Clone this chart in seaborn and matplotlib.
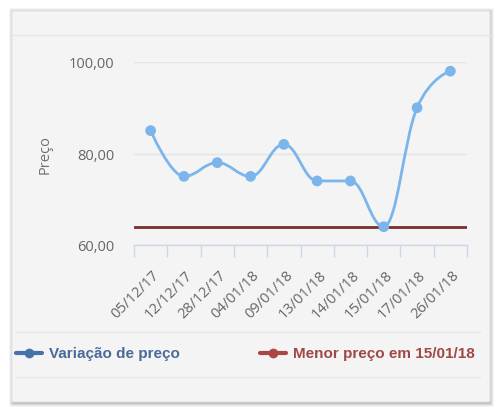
import numpy as np
import matplotlib
matplotlib.use("Agg")
import matplotlib.pyplot as plt
import seaborn as sns
from matplotlib.path import Path
from matplotlib.patches import PathPatch, FancyBboxPatch
from matplotlib.lines import Line2D
import matplotlib.transforms as mtransforms

# ---- data ----
dates = ["05/12/17", "12/12/17", "28/12/17", "04/01/18", "09/01/18",
         "13/01/18", "14/01/18", "15/01/18", "17/01/18", "26/01/18"]
prices = [85, 75, 78, 75, 82, 74, 74, 64, 90, 98]
min_price = 64
y_ticks = [60, 80, 100]
series_label = "Variação de preço"
min_label = "Menor preço em 15/01/18"
y_label = "Preço"

sns.set_theme(style="white")
plt.rcParams['font.family'] = ['Open Sans', 'DejaVu Sans']

W, H = 500, 414
fig = plt.figure(figsize=(W / 100, H / 100), dpi=100)
fig.patch.set_facecolor("white")

def fx(px):
    return px / W

def fy(py):
    return (H - py) / H

# card shadow + card
for k, a in [(5, 0.04), (4, 0.05), (3, 0.07), (2, 0.09), (1, 0.12)]:
    sh = FancyBboxPatch((fx(12 - k + 2), fy(403 + k)), fx(478 + 2 * k - 3), (391 + 2 * k - 2) / H,
                        boxstyle="round,pad=0,rounding_size=0.004", transform=fig.transFigure,
                        facecolor="black", edgecolor="none", alpha=a, zorder=0)
    fig.patches.append(sh)
card = FancyBboxPatch((fx(12), fy(403)), fx(478), 391 / H,
                      boxstyle="round,pad=0,rounding_size=0.004", transform=fig.transFigure,
                      facecolor="#f4f4f4", edgecolor="#e4e4e4", lw=0.8, zorder=1)
fig.patches.append(card)
# separators
for yy in (36, 333, 378):
    x0 = 12 if yy == 36 else 16
    x1 = 490 if yy == 36 else 480
    fig.lines.append(Line2D([fx(x0), fx(x1)], [fy(yy), fy(yy)], transform=fig.transFigure,
                            color="#e6e6e6", lw=1, zorder=2))

ax = fig.add_axes([fx(134), fy(246), fx(467 - 134), (246 - 63) / H])
ax.set_facecolor("none")
ax.set_zorder(3)

xs = np.arange(len(prices), dtype=float)
ys = np.array(prices, dtype=float)

# Highcharts-like spline control points
n = len(xs)
lc = [None] * n
rc = [None] * n
sm, den = 1.5, 2.5
for i in range(1, n - 1):
    x, y = xs[i], ys[i]
    px_, py_ = xs[i - 1], ys[i - 1]
    nx_, ny_ = xs[i + 1], ys[i + 1]
    lcx = (sm * x + px_) / den
    lcy = (sm * y + py_) / den
    rcx = (sm * x + nx_) / den
    rcy = (sm * y + ny_) / den
    if rcx != lcx:
        corr = (rcy - lcy) * (rcx - x) / (rcx - lcx) + y - rcy
        lcy += corr
        rcy += corr
    if lcy > py_ and lcy > y:
        lcy = max(py_, y); rcy = 2 * y - lcy
    elif lcy < py_ and lcy < y:
        lcy = min(py_, y); rcy = 2 * y - lcy
    if rcy > ny_ and rcy > y:
        rcy = max(ny_, y); lcy = 2 * y - rcy
    elif rcy < ny_ and rcy < y:
        rcy = min(ny_, y); lcy = 2 * y - rcy
    lc[i] = (lcx, lcy)
    rc[i] = (rcx, rcy)

verts = [(xs[0], ys[0])]
codes = [Path.MOVETO]
for i in range(1, n):
    c1 = rc[i - 1] if rc[i - 1] is not None else (xs[i - 1], ys[i - 1])
    c2 = lc[i] if lc[i] is not None else (xs[i], ys[i])
    verts += [c1, c2, (xs[i], ys[i])]
    codes += [Path.CURVE4] * 3

ax.axhline(min_price, color="#7a2e2e", lw=2, zorder=3)
ax.add_patch(PathPatch(Path(verts, codes), facecolor="none", edgecolor="#7cb5ec", lw=2,
                       zorder=4, capstyle="round", joinstyle="round"))
sns.scatterplot(x=xs, y=ys, ax=ax, color="#7cb5ec", s=60, edgecolor="none", zorder=5,
                clip_on=False, legend=False)

ax.set_xlim(-0.5, n - 0.5)
ax.set_ylim(60, 100)
ax.set_yticks(y_ticks)
ax.set_yticklabels([f"{v:.2f}".replace(".", ",") for v in y_ticks])
ax.set_xticks(xs)
ax.set_xticks(np.arange(-0.5, n, 1.0), minor=True)
ax.set_xticklabels(dates, rotation=45, ha="right", va="top")

ax.tick_params(axis="x", which="major", length=0, pad=16, labelsize=10.5, labelcolor="#666666")
ax.tick_params(axis="x", which="minor", length=8.6, width=1, color="#ccd6eb", bottom=True)
ax.tick_params(axis="y", length=0, pad=14, labelsize=10.5, labelcolor="#666666")

offset = mtransforms.ScaledTranslation(12 / 100, 0, fig.dpi_scale_trans)
for lab in ax.get_xticklabels():
    lab.set_transform(lab.get_transform() + offset)

ax.grid(axis="y", color="#e4e4e4", lw=1)
ax.grid(axis="x", visible=False)
for s in ("top", "right", "left"):
    ax.spines[s].set_visible(False)
ax.spines["bottom"].set_color("#ccd6eb")
ax.spines["bottom"].set_linewidth(1)

ax.set_ylabel(y_label, fontsize=10.5, color="#707070")
ax.yaxis.set_label_coords((45 - 134) / 333, 0.5)
ax.yaxis.label.set_va("center")

# legend
leg_y = fy(354)
for x0, x1, tx, col, tcol, txt in [(16, 42, 49, "#4572a7", "#4a6a9a", series_label),
                                   (260, 286, 293, "#aa4643", "#a04848", min_label)]:
    fig.lines.append(Line2D([fx(x0), fx(x1)], [leg_y, leg_y], transform=fig.transFigure,
                            color=col, lw=3, zorder=5))
    fig.lines.append(Line2D([fx((x0 + x1) / 2)], [leg_y], transform=fig.transFigure,
                            color=col, marker="o", ms=7, mec="none", lw=0, zorder=6))
    fig.text(fx(tx), leg_y, txt, va="center", ha="left", fontsize=11, fontweight="bold",
             color=tcol, family=["Liberation Sans", "DejaVu Sans"], zorder=6)

fig.savefig("out.png", dpi=100)
